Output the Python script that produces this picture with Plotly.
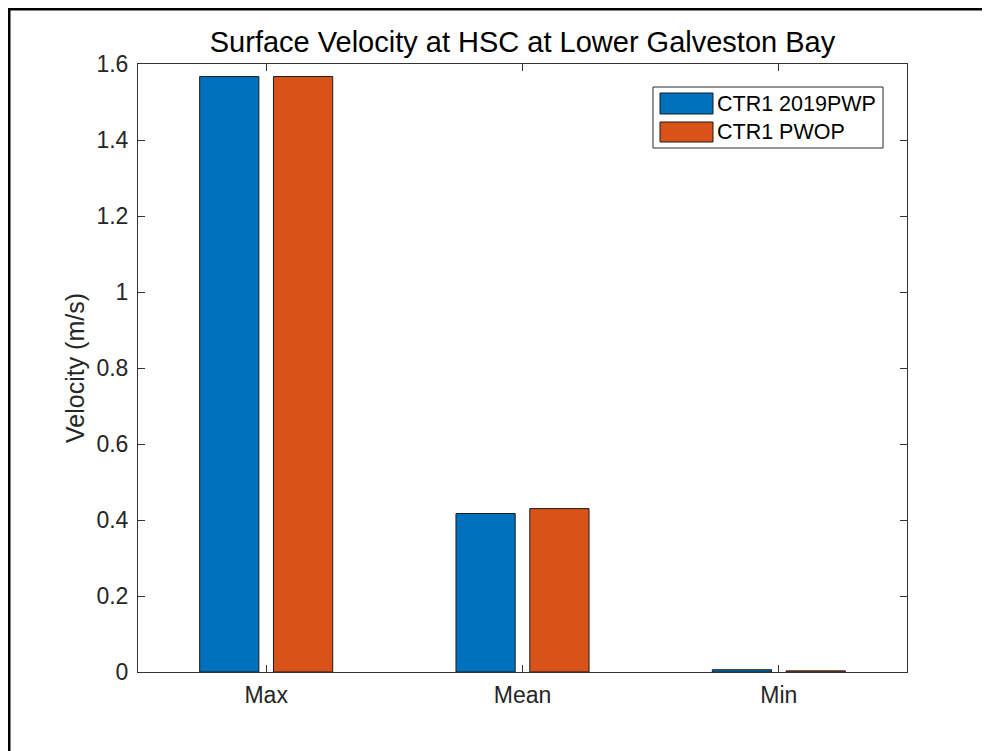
import plotly.graph_objects as go

categories = ["Max", "Mean", "Min"]
series_names = ["CTR1 2019PWP", "CTR1 PWOP"]
ctr1_2019pwp = [1.567, 0.417, 0.006]
ctr1_pwop = [1.567, 0.430, 0.003]
y_ticks = [0, 0.2, 0.4, 0.6, 0.8, 1, 1.2, 1.4, 1.6]
y_tick_labels = ["0", "0.2", "0.4", "0.6", "0.8", "1", "1.2", "1.4", "1.6"]

colors = ["#0072BD", "#D95319"]

# The page body has an 8px margin; work in reference-image pixels and shift.
OFF = 8
W, H = 990 - OFF, 751 - OFF
L, R, T, B = 138 - OFF, 907 - OFF, 64 - OFF, 672 - OFF  # plot area (figure px)


def px_x(x):  # reference-image x -> paper
    return (x - OFF - L) / (R - L)


def px_y(y):  # reference-image y -> paper
    return (B - (y - OFF)) / (B - T)


xpos = [1, 2, 3]
fig = go.Figure()
for name, vals, col, off in zip(series_names, [ctr1_2019pwp, ctr1_pwop], colors, [-0.2595, 0.0285]):
    fig.add_trace(go.Bar(
        x=xpos, y=vals, name=name, width=0.231, offset=off,
        marker=dict(color=col, line=dict(color="#1a1a1a", width=1)),
        showlegend=False,
    ))

axis_col = "#333333"
font_fam = "Liberation Sans, Arial, sans-serif"

fig.update_layout(
    width=W, height=H,
    margin=dict(l=L, r=W - R, t=T, b=H - B, autoexpand=False),
    paper_bgcolor="white", plot_bgcolor="white",
    font=dict(family=font_fam, color="#262626"),
    title=dict(text="Surface Velocity at HSC at Lower Galveston Bay",
               x=(L + R) / 2 / W, xanchor="center",
               y=1 - (42 - OFF) / H, yanchor="middle", yref="container",
               font=dict(size=29, color="#000000", family=font_fam)),
    barmode="overlay",
    xaxis=dict(range=[0.5, 3.5], tickvals=xpos, ticktext=categories,
               ticks="inside", ticklen=7, tickcolor=axis_col,
               showline=True, linecolor=axis_col, linewidth=1, mirror="ticks",
               showgrid=False, zeroline=False, ticklabelstandoff=2,
               tickfont=dict(size=23, color="#262626")),
    yaxis=dict(range=[0, 1.6], tickvals=y_ticks, ticktext=y_tick_labels,
               ticks="inside", ticklen=7, tickcolor=axis_col,
               showline=True, linecolor=axis_col, linewidth=1, mirror="ticks",
               showgrid=False, zeroline=False, ticklabelstandoff=4,
               tickfont=dict(size=23, color="#262626")),
)

# Y axis label
fig.add_annotation(text="Velocity (m/s)", xref="paper", yref="paper",
                   x=px_x(75), y=px_y(368), xanchor="center", yanchor="middle",
                   textangle=-90, showarrow=False,
                   font=dict(size=25, color="#262626"))

# Legend drawn manually (MATLAB style)
shapes = []
shapes.append(dict(type="rect", xref="paper", yref="paper",
                   x0=px_x(653), x1=px_x(883), y0=px_y(148), y1=px_y(87),
                   line=dict(color="#262626", width=1), fillcolor="white"))
rows = [(93, 114, 104), (122, 142, 132)]
for (ya, yb, yc), name, col in zip(rows, series_names, colors):
    shapes.append(dict(type="rect", xref="paper", yref="paper",
                       x0=px_x(660), x1=px_x(713), y0=px_y(yb), y1=px_y(ya),
                       line=dict(color="#1a1a1a", width=1), fillcolor=col))
    fig.add_annotation(text=name, xref="paper", yref="paper",
                       x=px_x(715), y=px_y(yc), xanchor="left", yanchor="middle",
                       showarrow=False, font=dict(size=21.5, color="#000000"))

# Outer frame (top and left edges visible)
shapes.append(dict(type="line", xref="paper", yref="paper",
                   x0=px_x(8), x1=px_x(990), y0=px_y(9), y1=px_y(9),
                   line=dict(color="black", width=3)))
shapes.append(dict(type="line", xref="paper", yref="paper",
                   x0=px_x(9), x1=px_x(9), y0=px_y(8), y1=px_y(751),
                   line=dict(color="black", width=3)))
fig.update_layout(shapes=shapes)

fig.write_html("out.html")
